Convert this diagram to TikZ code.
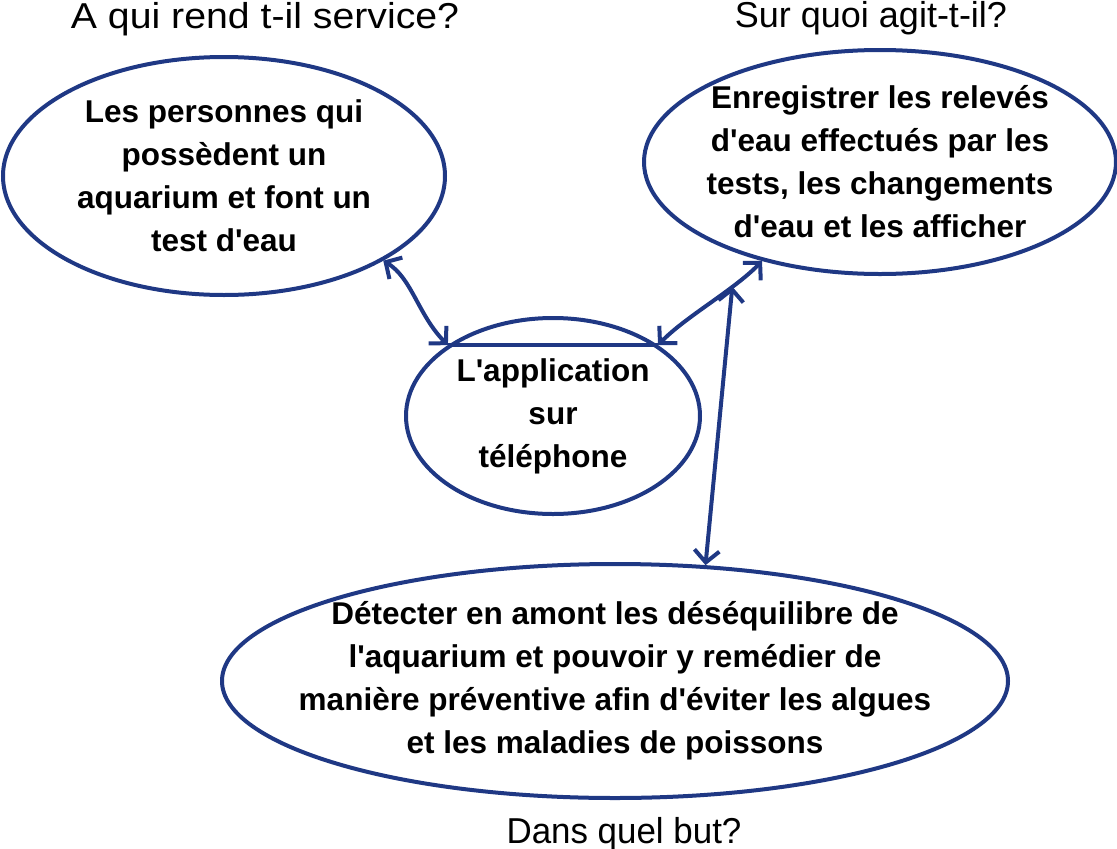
\documentclass[tikz,border=0pt]{standalone}
\usepackage{fontspec}
\setmainfont{Liberation Sans}
\usetikzlibrary{shapes.geometric,arrows.meta}
\definecolor{bleu}{RGB}{31,56,132}
\newcommand{\apo}{\textquotesingle}

\begin{document}
\begin{tikzpicture}[x=1pt, y=-1pt,
   bulle/.style={ellipse, draw=bleu, line width=4pt, inner sep=0pt, align=center,
      font=\fontsize{31.5}{43}\selectfont\bfseries},
   question/.style={anchor=base, font=\fontsize{36}{40}\selectfont},
   fleche/.style={draw=bleu, line width=4pt,
      {Straight Barb[length=12pt,width=25pt]}-{Straight Barb[length=12pt,width=25pt]}}]%
   \useasboundingbox (0,0) rectangle (1117,849);
   \node[question] (qui) at (265,28) {\scalebox{1.09}[1]{A qui rend t-il service?}};
   \node[question] (quoi) at (871,27) {Sur quoi agit-t-il?};
   \node[question] (but) at (624,843) {\scalebox{0.97}[1]{Dans quel but?}};
   \node[bulle, minimum width=442pt, minimum height=238pt] (pers) at (224,176)
      {Les personnes qui\\possèdent un\\aquarium et font un\\test d\apo eau};
   \node[bulle, minimum width=472pt, minimum height=224pt, inner xsep=-8pt] (releves) at (880,162)
      {Enregistrer les relevés\\d\apo eau effectués par les\\tests, les changements\\d\apo eau et les afficher};
   \node[bulle, minimum width=294pt, minimum height=196pt] (appli) at (553,416)
      {L\apo application\\sur\\téléphone};
   \node[bulle, minimum width=786pt, minimum height=234pt, inner xsep=-42pt] (objectif) at (615,681)
      {Détecter en amont les déséquilibre de\\l\apo aquarium et pouvoir y remédier de\\manière préventive afin d\apo éviter les algues\\et les maladies de poissons};
   \draw[bleu, line width=4pt] (appli.146) -- (appli.34);
   \draw[fleche] (pers.332) .. controls (412,278) and (418,315) .. (appli.146);
   \draw[fleche] (releves.220) .. controls (734,290) and (685,317) .. coordinate[pos=0.3] (jonction) (appli.34);
   \draw[fleche] (jonction) -- (objectif.52);
\end{tikzpicture}
\end{document}
